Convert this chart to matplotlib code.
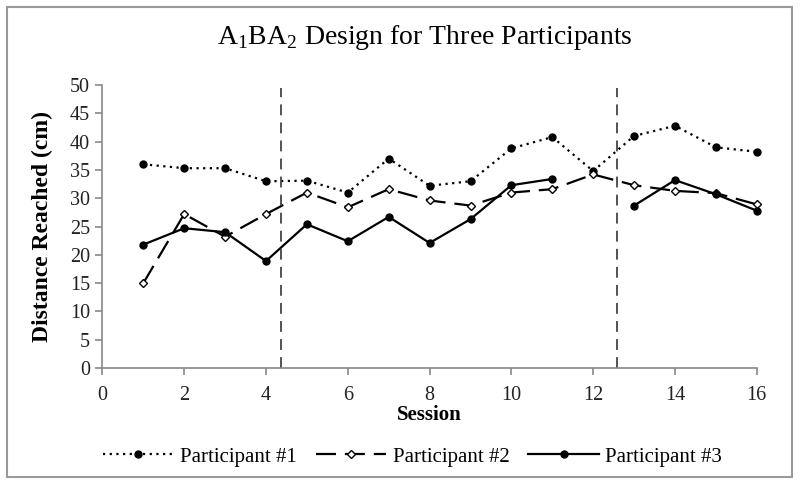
import numpy as np
import matplotlib.pyplot as plt
from matplotlib.patches import Rectangle

plt.rcParams["font.family"] = "Liberation Serif"
plt.rcParams["mathtext.fontset"] = "custom"
plt.rcParams["mathtext.rm"] = "Liberation Serif"

# data
sessions = np.arange(1, 17)
participant1 = [36.0, 35.3, 35.3, 33.0, 33.1, 31.0, 37.0, 32.2,
                33.0, 38.8, 40.8, 34.8, 41.0, 42.8, 39.0, 38.2]
participant2 = [15.0, 27.2, 23.2, 27.2, 31.0, 28.4, 31.6, 29.6,
                28.7, 31.0, 31.6, 34.2, 32.3, 31.3, 30.9, 28.9]
participant3 = [21.8, 24.7, 24.0, 18.9, 25.4, 22.4, 26.7, 22.1,
                26.3, 32.3, 33.4, np.nan, 28.7, 33.2, 30.7, 27.8]
phase_changes = [4.37, 12.57]

fig = plt.figure(figsize=(8, 4.83), dpi=100)
ax = fig.add_axes([0.128, 0.238, 0.818, 0.586])

ax.plot(sessions, participant1, color="black", linestyle=(0, (1, 2)), linewidth=1.6,
        marker="o", markersize=5, label="Participant #1", clip_on=False)
ax.plot(sessions, participant2, color="black", linestyle=(0, (9, 4)), linewidth=1.6,
        marker="D", markersize=4, markerfacecolor="white", markeredgewidth=1,
        label="Participant #2", clip_on=False)
ax.plot(sessions, participant3, color="black", linestyle="-", linewidth=1.6,
        marker="o", markersize=5, label="Participant #3", clip_on=False)

for x in phase_changes:
    ax.plot([x, x], [0, 49.5], color="#444444", linestyle=(0, (6, 4)), linewidth=1.3)

ax.set_xlim(0, 16)
ax.set_ylim(0, 50)
ax.set_xticks(range(0, 17, 2))
ax.set_yticks(range(0, 51, 5))
for side in ["top", "right"]:
    ax.spines[side].set_visible(False)
for side in ["left", "bottom"]:
    ax.spines[side].set_color("#888888")
    ax.spines[side].set_linewidth(1.2)
ax.tick_params(axis="both", colors="#888888", labelcolor="#222222", labelsize=14.5,
               length=5, width=1.2)
ax.tick_params(axis="x", pad=8)
ax.tick_params(axis="y", pad=4)

ax.set_xlabel("Session", fontsize=15, fontweight="bold", labelpad=0)
ax.set_ylabel("Distance Reached (cm)", fontsize=17, fontweight="bold", labelpad=12)
fig.text(0.531, 0.922, r"A$_1$BA$_2$ Design for Three Participants",
         ha="center", va="center", fontsize=20)

ax.legend(loc="upper center", bbox_to_anchor=(0.474, -0.25), ncol=3, frameon=False,
          fontsize=15, handlelength=3.4, handletextpad=0.3, columnspacing=0.9,
          borderaxespad=0)

fig.patches.append(Rectangle((0.009, 0.013), 0.981, 0.973, transform=fig.transFigure,
                             fill=False, edgecolor="#999999", linewidth=1.5))

fig.savefig("out.png", dpi=100)
